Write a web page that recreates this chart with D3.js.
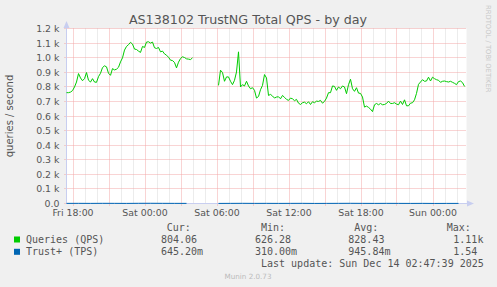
<!DOCTYPE html>
<html lang="en">
<head>
<meta charset="utf-8">
<title>AS138102 TrustNG Total QPS - by day</title>
<style>
  body { margin: 0; background: #f0f0f0; }
  svg { display: block; }
  .lbl { font-family: "DejaVu Sans", sans-serif; fill: #555; }
  .mono { font-family: "DejaVu Sans Mono", monospace; font-size: 10px; fill: #555; }
</style>
</head>
<body>
<script src="https://cdn.jsdelivr.net/npm/d3@7"></script>
<script>
// QPS, 10 minute samples, two runs with a hole around Sat 04:00-06:10
var qpsStart1 = "2025-12-12T17:30:00Z";
var qps1 = [760,760,764,774,799,833,891,861,842,856,
            898,845,833,856,833,831,870,893,932,944,
            937,893,879,925,916,921,934,971,999,1052,
            1077,1089,1105,1093,1059,1056,1045,1036,1077,1070,
            1107,1109,1100,1107,1068,1063,1070,1040,1045,1026,
            1017,1003,983,980,967,930,969,994,1006,1001,
            992,990,987,999];
var qpsStart2 = "2025-12-13T06:10:00Z";
var qps2 = [810,914,898,838,868,868,838,815,845,902,
            1040,799,815,806,838,806,787,794,776,723,
            734,780,810,884,861,741,748,737,723,730,
            732,718,741,728,714,707,723,718,705,714,
            688,679,691,695,684,698,679,698,691,702,
            700,707,688,700,723,760,760,806,803,776,
            799,787,806,799,753,815,852,787,769,794,
            757,755,730,661,668,659,647,630,677,686,
            677,686,677,679,686,702,686,686,691,682,
            677,702,679,711,670,670,688,691,711,755,
            817,833,849,838,840,866,840,866,856,849,
            845,831,838,840,836,833,838,831,824,815,
            836,840,829,803];
// Trust+ TPS, hourly
var tpsStart1 = "2025-12-12T17:30:00Z";
var tps1 = [0.9,1.1,0.8,1.2,1.0,0.7,1.3,1.5,1.1,0.9,0.8];
var tpsStart2 = "2025-12-13T06:10:00Z";
var tps2 = [0.6,0.9,1.2,0.8,1.0,0.7,0.9,1.1,0.5,0.8,1.0,1.3,0.9,0.7,1.0,0.8,0.6,0.9,0.4,0.7,0.65];

var yTicks = [0,100,200,300,400,500,600,700,800,900,1000,1100,1200];
var legendRows = [
  {name: "Queries (QPS)", color: "#00cc00", cur: "804.06", min: "626.28", avg: "828.43", max: "1.11k"},
  {name: "Trust+ (TPS)", color: "#0066b3", cur: "645.20m", min: "310.00m", avg: "945.84m", max: "1.54"}
];
var lastUpdate = "Last update: Sun Dec 14 02:47:39 2025";

var W = 497, H = 287;
var pL = 66.5, pR = 466.5, pT = 28.5, pB = 203.5;

var svg = d3.select("body").append("svg")
    .attr("width", W).attr("height", H);

// plot canvas
svg.append("rect")
    .attr("x", pL).attr("y", pT)
    .attr("width", pR - pL).attr("height", pB - pT)
    .attr("fill", "#fff");

var t0 = new Date("2025-12-12T17:30:00Z");
var t1 = new Date(t0.getTime() + 400 * 300 * 1000);
var x = d3.scaleUtc().domain([t0, t1]).range([pL, pR]);
var y = d3.scaleLinear().domain([0, 1200]).range([pB, pT]);

// vertical grid: minor hourly grey, major 3 hourly red
var minor = d3.utcHour.range(t0, t1);
svg.append("g").selectAll("line").data(minor.filter(function(d) { return d.getUTCHours() % 3 != 0; }))
  .enter().append("line")
    .attr("x1", function(d) { return Math.round(x(d)) + 0.5; })
    .attr("x2", function(d) { return Math.round(x(d)) + 0.5; })
    .attr("y1", pT).attr("y2", pB)
    .attr("stroke", "#d8d8d8").attr("stroke-dasharray", "1,1");
svg.append("g").selectAll("line").data(d3.utcHour.every(3).range(t0, t1))
  .enter().append("line")
    .attr("x1", function(d) { return Math.round(x(d)) + 0.5; })
    .attr("x2", function(d) { return Math.round(x(d)) + 0.5; })
    .attr("y1", pT).attr("y2", pB + 3)
    .attr("stroke", "#f2a8a8").attr("stroke-dasharray", "1,1");

// horizontal grid
svg.append("g").selectAll("line").data(yTicks)
  .enter().append("line")
    .attr("x1", pL - 2).attr("x2", pR)
    .attr("y1", function(d) { return Math.floor(y(d)) + 0.5; })
    .attr("y2", function(d) { return Math.floor(y(d)) + 0.5; })
    .attr("stroke", "#f2a8a8").attr("stroke-dasharray", "1,1");

// y labels
svg.append("g").selectAll("text").data(yTicks)
  .enter().append("text")
    .attr("class", "lbl")
    .attr("x", 59.5)
    .attr("y", function(d) { return Math.floor(y(d)) + 4; })
    .attr("text-anchor", "end")
    .attr("font-size", "9.4px")
    .text(function(d) { return d == 0 ? "0.0" : (d / 1000).toFixed(1) + " k"; });

// x labels
var fmt = d3.utcFormat("%a %H:%M");
svg.append("g").selectAll("text").data(d3.utcHour.every(6).range(t0, t1))
  .enter().append("text")
    .attr("class", "lbl")
    .attr("x", function(d) { return x(d) + 0.5; })
    .attr("y", 216)
    .attr("text-anchor", "middle")
    .attr("font-size", "9.4px")
    .text(function(d) { return fmt(d); });

// axes with arrows
var axisCol = "#c8cef0";
svg.append("line").attr("x1", pL).attr("x2", pL).attr("y1", 24).attr("y2", pB)
    .attr("stroke", axisCol);
svg.append("path").attr("d", "M63.5,28 L66.5,21 L69.5,28 Z").attr("fill", axisCol);
svg.append("line").attr("x1", pL).attr("x2", 470).attr("y1", 203.5).attr("y2", 203.5)
    .attr("stroke", axisCol);
svg.append("path").attr("d", "M467,200.5 L474,203.5 L467,206.5 Z").attr("fill", axisCol);

function series(start, stepMin, vals) {
  var s = new Date(start).getTime();
  return vals.map(function(v, i) { return {t: new Date(s + i * stepMin * 60000), v: v}; });
}

var line = d3.line()
    .x(function(d) { return x(d.t); })
    .y(function(d) { return y(d.v); });

[series(tpsStart1, 60, tps1), series(tpsStart2, 60, tps2)].forEach(function(s) {
  svg.append("path").datum(s).attr("d", line)
      .attr("fill", "none").attr("stroke", "#0066b3").attr("stroke-width", 1);
});
[series(qpsStart1, 10, qps1), series(qpsStart2, 10, qps2)].forEach(function(s) {
  svg.append("path").datum(s).attr("d", line)
      .attr("fill", "none").attr("stroke", "#00cc00").attr("stroke-width", 1);
});

// title
svg.append("text")
    .attr("class", "lbl")
    .attr("x", 248).attr("y", 24)
    .attr("text-anchor", "middle")
    .attr("font-size", "12.7px")
    .text("AS138102 TrustNG Total QPS - by day");

// y axis label
svg.append("text")
    .attr("class", "lbl")
    .attr("transform", "translate(13,116) rotate(-90)")
    .attr("text-anchor", "middle")
    .attr("font-size", "10px")
    .text("queries / second");

// rrdtool credit
svg.append("text")
    .attr("transform", "translate(485.5,5) rotate(90)")
    .attr("font-family", "DejaVu Sans, sans-serif")
    .attr("font-size", "6.8px")
    .attr("fill", "#c8c8c8")
    .text("RRDTOOL / TOBI OETIKER");

// legend
var heads = [["Cur:", 166.7], ["Min:", 261], ["Avg:", 354.3], ["Max:", 446.7]];
heads.forEach(function(h) {
  svg.append("text").attr("class", "mono").attr("x", h[1]).attr("y", 231).text(h[0]);
});
var cols = [["cur", 161], ["min", 255], ["avg", 348.3], ["max", 453.3]];
legendRows.forEach(function(r, i) {
  var yy = 243 + i * 12.3;
  svg.append("rect").attr("x", 14).attr("y", yy - 6.5).attr("width", 6).attr("height", 6)
      .attr("fill", r.color);
  svg.append("text").attr("class", "mono").attr("x", 26).attr("y", yy).text(r.name);
  cols.forEach(function(c) {
    svg.append("text").attr("class", "mono").attr("x", c[1]).attr("y", yy).text(r[c[0]]);
  });
});
svg.append("text").attr("class", "mono").attr("x", 261).attr("y", 267).text(lastUpdate);

svg.append("text")
    .attr("x", 248).attr("y", 279)
    .attr("text-anchor", "middle")
    .attr("font-family", "DejaVu Sans, sans-serif")
    .attr("font-size", "7.2px")
    .attr("fill", "#bbb")
    .text("Munin 2.0.73");
</script>
</body>
</html>
